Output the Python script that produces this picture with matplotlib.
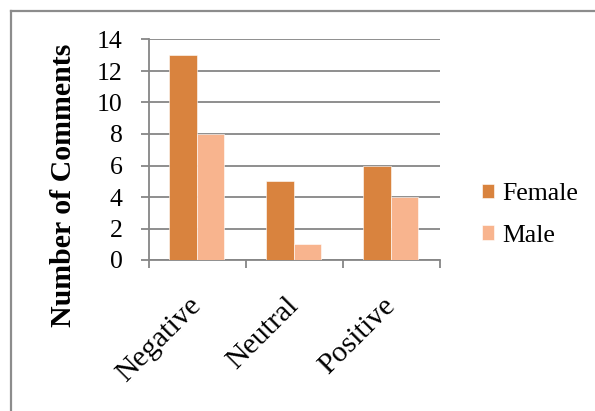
import matplotlib
matplotlib.use("Agg")
import matplotlib.pyplot as plt
from matplotlib.lines import Line2D
import numpy as np

categories = ["Negative", "Neutral", "Positive"]
female = [13, 5, 6]
male = [8, 1, 4]
series_names = ["Female", "Male"]
y_ticks = [0, 2, 4, 6, 8, 10, 12, 14]

plt.rcParams["font.family"] = ["Liberation Serif", "DejaVu Serif"]

W, H = 595, 411
fig = plt.figure(figsize=(W / 100, H / 100), dpi=100)
fig.patch.set_facecolor("white")

# outer frame (top and left edges)
frame_col = "#8c8c8c"
fig.add_artist(Line2D([11 / W, 11 / W], [0, 1 - 11 / H], transform=fig.transFigure,
                      color=frame_col, lw=1.6))
fig.add_artist(Line2D([11 / W, 1], [1 - 11 / H, 1 - 11 / H], transform=fig.transFigure,
                      color=frame_col, lw=1.6))

left, right, top, bottom = 149, 440, 39.5, 260
ax = fig.add_axes([left / W, 1 - bottom / H, (right - left) / W, (bottom - top) / H])

grid_col = "#868686"
x = np.arange(len(categories)) + 0.5
bw = 0.288
ax.bar(x - bw / 2 - 0.01, female, width=bw, color="#D9833E", edgecolor="white", linewidth=0.4,
       label=series_names[0], zorder=3)
ax.bar(x + bw / 2 - 0.01, male, width=bw, color="#F8B48E", edgecolor="white", linewidth=0.4,
       label=series_names[1], zorder=3)

ax.set_xlim(0, 3)
ax.set_ylim(0, 14)
ax.set_yticks(y_ticks)
ax.set_yticklabels([str(v) for v in y_ticks], fontsize=18.5)
ax.yaxis.grid(True, color=grid_col, lw=1.3, zorder=0)
ax.set_axisbelow(True)

ax.set_xticks(x)
ax.set_xticklabels(categories, fontsize=21.5, rotation=45, ha="right", va="center",
                   rotation_mode="anchor")
ax.set_xticks([0, 1, 2, 3], minor=True)
ax.tick_params(axis="x", which="major", length=0, pad=30)
ax.tick_params(axis="x", which="minor", length=6, width=1.3, color=grid_col, direction="out")
ax.tick_params(axis="y", which="major", length=6, width=1.3, color=grid_col, direction="out",
               pad=13)

for s in ["top", "right"]:
    ax.spines[s].set_visible(False)
for s in ["left", "bottom"]:
    ax.spines[s].set_color(grid_col)
    ax.spines[s].set_linewidth(1.3)

fig.text(64 / W, 1 - 185 / H, "Number of Comments", rotation=90, ha="center", va="center",
         fontsize=21.5, fontweight="bold")

fig.legend(loc="center left", bbox_to_anchor=(482 / W, 1 - 215 / H),
           bbox_transform=fig.transFigure, frameon=False, fontsize=18.5,
           handlelength=0.47, handleheight=0.47, handletextpad=0.3,
           labelspacing=0.75, borderpad=0, borderaxespad=0)

fig.savefig("out.png", dpi=100)
